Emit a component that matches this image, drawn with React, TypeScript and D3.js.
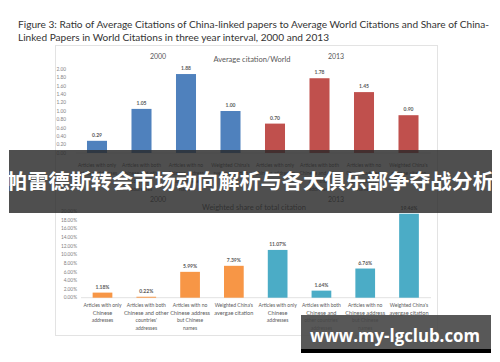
import * as d3 from "d3";

const categoryLines: string[][] = [
  ["Articles with only", "Chinese", "addresses"],
  ["Articles with both", "Chinese and other", "countries'", "addresses"],
  ["Articles with no", "Chinese address", "but Chinese", "names"],
  ["Weighted China's", "avergae citation"],
  ["Articles with only", "Chinese", "addresses"],
  ["Articles with both", "Chinese and", "other countries'", "addresses"],
  ["Articles with no", "Chinese address", "but Chinese", "names"],
  ["Weighted China's", "avergae citation"],
];
const topCategoryLines: string[][] = [
  ["Articles with only", "Chinese addresses"],
  ["Articles with both", "Chinese and other", "countries'", "addresses"],
  ["Articles with no", "Chinese address", "but Chinese", "names"],
  ["Weighted China's", "avergae citation"],
  ["Articles with only", "Chinese addresses"],
  ["Articles with both", "Chinese and other", "countries'", "addresses"],
  ["Articles with no", "Chinese address", "but Chinese", "names"],
  ["Weighted China's", "avergae citation"],
];

const years = ["2000", "2013"];
const avgCitation2000 = [0.29, 1.05, 1.88, 1.0];
const avgCitation2013 = [0.7, 1.78, 1.45, 0.9];
const share2000 = [1.18, 0.22, 5.99, 7.39];
const share2013 = [11.07, 1.64, 6.76, 19.46];

const topTicks = d3.range(0, 2.001, 0.2);
const bottomTicks = d3.range(0, 20.001, 2);

const COLORS = {
  avg2000: "#4f81bd",
  avg2013: "#c0504d",
  share2000: "#f79646",
  share2013: "#4bacc6",
  text: "#595959",
};

const FONT = "Lato, 'Liberation Sans', sans-serif";

export default function App() {
  const width = 500;
  const height = 362;
  const idx = d3.range(8);

  const xTop = d3
    .scaleBand<number>()
    .domain(idx)
    .range([74.75, 430.75])
    .paddingInner(0.55)
    .paddingOuter(0.275);
  const yTop = d3.scaleLinear().domain([0, 2]).range([153, 69]);

  const xBot = d3
    .scaleBand<number>()
    .domain(idx)
    .range([80.6, 430.9])
    .paddingInner(0.55)
    .paddingOuter(0.275);
  const yBot = d3.scaleLinear().domain([0, 20]).range([297.7, 211.4]);

  const topValues = [...avgCitation2000, ...avgCitation2013];
  const botValues = [...share2000, ...share2013];
  const fmtTop = d3.format(".2f");
  const fmtPct = (v: number) => d3.format(".2f")(v) + "%";

  return (
    <svg
      width={width}
      height={height}
      style={{ display: "block", position: "absolute", left: 0, top: 0 }}
      fontFamily={FONT}
    >
      <rect width={width} height={height} fill="#ffffff" />

      {/* title */}
      <text x={18} y={28} fontSize={10} fill="#333" textLength={471} lengthAdjust="spacingAndGlyphs">
        Figure 3: Ratio of Average Citations of China-linked papers to Average World Citations and Share of China-
      </text>
      <text x={18} y={41} fontSize={10} fill="#333" textLength={311} lengthAdjust="spacingAndGlyphs">
        Linked Papers in World Citations in three year interval, 2000 and 2013
      </text>

      {/* chart panel */}
      <rect x={55.5} y={45.5} width={382} height={290} fill="#fff" stroke="#e3e3e3" />

      {/* top chart headers */}
      <text x={158} y={59} fontSize={7} fill={COLORS.text} textAnchor="middle">{years[0]}</text>
      <text x={336} y={59} fontSize={7} fill={COLORS.text} textAnchor="middle">{years[1]}</text>
      <text x={252} y={61.5} fontSize={7.5} fill={COLORS.text} textAnchor="middle">
        Average citation/World
      </text>

      {/* top y axis */}
      {topTicks.map((t) => (
        <text key={t} x={66} y={yTop(t) + 1.7} fontSize={4.8} fill="#7f7f7f" textAnchor="end">
          {fmtTop(t)}
        </text>
      ))}
      <line x1={76} x2={431} y1={yTop(0)} y2={yTop(0)} stroke="#d9d9d9" strokeWidth={0.8} />

      {/* top bars */}
      {topValues.map((v, i) => (
        <g key={i}>
          <rect
            x={xTop(i)}
            y={yTop(v)}
            width={xTop.bandwidth()}
            height={yTop(0) - yTop(v)}
            fill={i < 4 ? COLORS.avg2000 : COLORS.avg2013}
          />
          <text
            x={(xTop(i) ?? 0) + xTop.bandwidth() / 2}
            y={yTop(v) - 4}
            fontSize={5}
            fontWeight="bold"
            fill={COLORS.text}
            textAnchor="middle"
          >
            {fmtTop(v)}
          </text>
        </g>
      ))}
      {topCategoryLines.map((lines, i) =>
        lines.map((l, j) => (
          <text
            key={i + "-" + j}
            x={(xTop(i) ?? 0) + xTop.bandwidth() / 2}
            y={167 + j * 8}
            fontSize={5}
            fill={COLORS.text}
            textAnchor="middle"
          >
            {l}
          </text>
        ))
      )}

      {/* bottom chart headers */}
      <text x={158} y={202} fontSize={7} fill={COLORS.text} textAnchor="middle">{years[0]}</text>
      <text x={336} y={202} fontSize={7} fill={COLORS.text} textAnchor="middle">{years[1]}</text>
      <text x={254} y={209.5} fontSize={7.5} fill={COLORS.text} textAnchor="middle">
        Weighted share of total citation
      </text>

      {/* bottom y axis */}
      {bottomTicks.map((t) => (
        <text key={t} x={77} y={yBot(t) + 1.7} fontSize={4.8} fill="#7f7f7f" textAnchor="end">
          {fmtPct(t)}
        </text>
      ))}
      <line x1={81} x2={431} y1={yBot(0)} y2={yBot(0)} stroke="#d9d9d9" strokeWidth={0.8} />

      {/* bottom bars */}
      {botValues.map((v, i) => (
        <g key={i}>
          <rect
            x={xBot(i)}
            y={yBot(v)}
            width={xBot.bandwidth()}
            height={yBot(0) - yBot(v)}
            fill={i < 4 ? COLORS.share2000 : COLORS.share2013}
          />
          <text
            x={(xBot(i) ?? 0) + xBot.bandwidth() / 2}
            y={yBot(v) - 4}
            fontSize={5}
            fontWeight="bold"
            fill={COLORS.text}
            textAnchor="middle"
          >
            {fmtPct(v)}
          </text>
        </g>
      ))}
      {categoryLines.map((lines, i) =>
        lines.map((l, j) => (
          <text
            key={i + "-" + j}
            x={(xBot(i) ?? 0) + xBot.bandwidth() / 2}
            y={307 + j * 7.7}
            fontSize={j === 1 ? 5.6 : 5}
            fill={COLORS.text}
            textAnchor="middle"
          >
            {l}
          </text>
        ))
      )}

      {/* banner overlay */}
      <rect x={9} y={150} width={483} height={63} fill="rgba(40,40,40,0.82)" />
      <text
        x={250}
        y={189}
        fontSize={20}
        fontWeight="bold"
        fill="#ffffff"
        textAnchor="middle"
        fontFamily="'Noto Sans CJK SC', sans-serif"
        textLength={488}
        lengthAdjust="spacingAndGlyphs"
      >
        帕雷德斯转会市场动向解析与各大俱乐部争夺战分析
      </text>

      {/* watermark */}
      <rect x={301} y={315} width={190} height={38} fill="rgba(70,70,70,0.9)" />
      <rect x={301} y={349} width={190} height={4} fill="#000" />
      <text
        x={310}
        y={342}
        fontSize={17}
        fontWeight="bold"
        fill="#ffffff"
        fontFamily="'Open Sans', 'DejaVu Sans', sans-serif"
        textLength={170}
        lengthAdjust="spacingAndGlyphs"
      >
        www.my-lgclub.com
      </text>
    </svg>
  );
}
